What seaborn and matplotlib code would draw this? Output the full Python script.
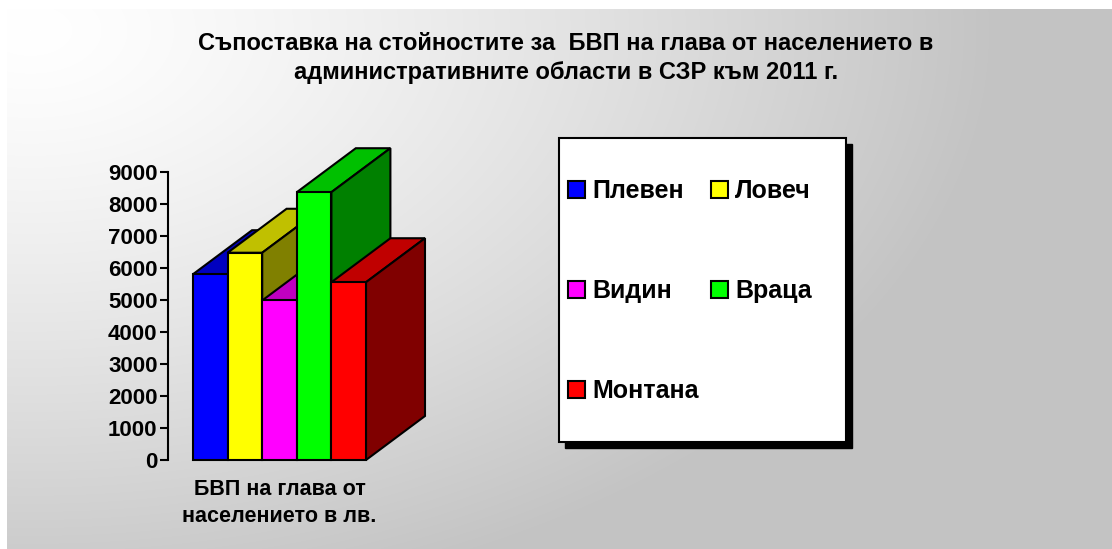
import numpy as np
import pandas as pd
import matplotlib
matplotlib.use('Agg')
import matplotlib.pyplot as plt
from matplotlib.patches import Polygon, Rectangle
import seaborn as sns

# данни
regions = ['Плевен', 'Ловеч', 'Видин', 'Враца', 'Монтана']
gdp_values = [5800, 6470, 4980, 8360, 5550]
category = 'БВП на глава от\nнаселението в лв.'
title = ('Съпоставка на стойностите за  БВП на глава от населението в\n'
         'административните области в СЗР към 2011 г.')
y_ticks = [0, 1000, 2000, 3000, 4000, 5000, 6000, 7000, 8000, 9000]

front_colors = ['#0000FF', '#FFFF00', '#FF00FF', '#00FF00', '#FF0000']
top_colors = ['#0000C0', '#C0C000', '#C000C0', '#00C000', '#C00000']
side_colors = ['#000080', '#808000', '#800080', '#008000', '#800000']

sns.set_style('white')
plt.rcParams['font.family'] = ['Liberation Sans', 'DejaVu Sans']
plt.rcParams['font.weight'] = 'bold'
plt.rcParams['text.color'] = 'black'
plt.rcParams['xtick.color'] = 'black'
plt.rcParams['ytick.color'] = 'black'
plt.rcParams['axes.labelcolor'] = 'black'

W, H = 1112, 549
fig = plt.figure(figsize=(W / 100, H / 100), dpi=100)
fig.patch.set_facecolor('white')

# фон с преливане от горния ляв ъгъл
bg = fig.add_axes([7 / W, 0, 1 - 7 / W, (H - 9) / H], zorder=-10)
xx, yy = np.meshgrid(np.arange(7, W), np.arange(9, H))
t = np.sqrt(((xx - 30) / 970.0) ** 2 + ((yy - 30) / 590.0) ** 2)
t = np.clip(t, 0, 1) ** 1.3
shade = 1.0 - (1.0 - 0.765) * t
bg.imshow(np.dstack([shade, shade, shade]), aspect='auto', interpolation='bilinear')
bg.axis('off')

df = pd.DataFrame({'cat': [category] * len(regions), 'region': regions, 'value': gdp_values})

ax = fig.add_axes([168 / W, (H - 460) / H, 257 / W, (460 - 171.7) / H])
ax.patch.set_alpha(0)
sns.barplot(data=df, x='cat', y='value', hue='region', hue_order=regions,
            palette=front_colors, width=1, dodge=True, edgecolor='black',
            linewidth=1.5, saturation=1, ax=ax, legend=True)

# 3D ефект: горна и странична стена на всяка колона
dx, dy = 59 / 173, 1373
bars = sorted([p for p in ax.patches if p.get_height() > 0], key=lambda p: p.get_x())
for i, p in enumerate(bars):
    x0 = p.get_x()
    x1 = x0 + p.get_width()
    h = p.get_height()
    top = Polygon([(x0, h), (x1, h), (x1 + dx, h + dy), (x0 + dx, h + dy)], closed=True,
                  facecolor=top_colors[i], edgecolor='black', linewidth=1.5,
                  zorder=10 + 3 * i, clip_on=False)
    side = Polygon([(x1, 0), (x1 + dx, dy), (x1 + dx, h + dy), (x1, h)], closed=True,
                   facecolor=side_colors[i], edgecolor='black', linewidth=1.5,
                   zorder=10 + 3 * i + 1, clip_on=False)
    ax.add_patch(top)
    ax.add_patch(side)
    p.set_zorder(10 + 3 * i + 2)
    p.set_clip_on(False)

ax.set_xlim(-0.5 - 25 / 173, 0.5 + 59 / 173)
ax.set_ylim(0, 9000)
ax.set_yticks(y_ticks)
ax.set_yticklabels([str(v) for v in y_ticks], fontsize=16, fontweight='bold')
ax.tick_params(axis='y', direction='out', length=6, width=1.5, color='black', pad=1.5, left=True)
ax.tick_params(axis='x', length=0, pad=13.5, labelsize=15.5)
for lab in ax.get_xticklabels():
    lab.set_fontweight('bold')
    lab.set_linespacing(1.42)
ax.set_xlabel('')
ax.set_ylabel('')
for s in ['top', 'right', 'bottom']:
    ax.spines[s].set_visible(False)
ax.spines['left'].set_linewidth(1.5)
ax.spines['left'].set_color('black')

# легенда
handles, labels = ax.get_legend_handles_labels()
ax.get_legend().remove()
order = [0, 2, 4, 1, 3]
leg_handles = []
for k in order:
    hd = handles[k]
    hd.set_edgecolor('black')
    hd.set_linewidth(1.5)
    leg_handles.append(hd)
fig.patches.append(Rectangle((565 / W, (H - 448) / H), 287 / W, 304 / H, transform=fig.transFigure,
                             facecolor='black', edgecolor='black', zorder=1))
fig.patches.append(Rectangle((559 / W, (H - 442) / H), 287 / W, 304 / H, transform=fig.transFigure,
                             facecolor='white', edgecolor='black', linewidth=1.5, zorder=2))
leg = fig.legend(leg_handles, [labels[k] for k in order], ncol=2, frameon=False,
                 loc='upper left', bbox_to_anchor=(568 / W, (H - 179) / H),
                 prop={'weight': 'bold', 'size': 18},
                 handlelength=0.68, handleheight=0.68, handletextpad=0.3,
                 labelspacing=3.05, columnspacing=0.46, borderpad=0, borderaxespad=0)
leg.set_zorder(5)

fig.text(566 / W, 1 - 58 / H, title, ha='center', va='center', fontsize=17,
         fontweight='bold', linespacing=1.36)

fig.savefig('out.png', dpi=100)
